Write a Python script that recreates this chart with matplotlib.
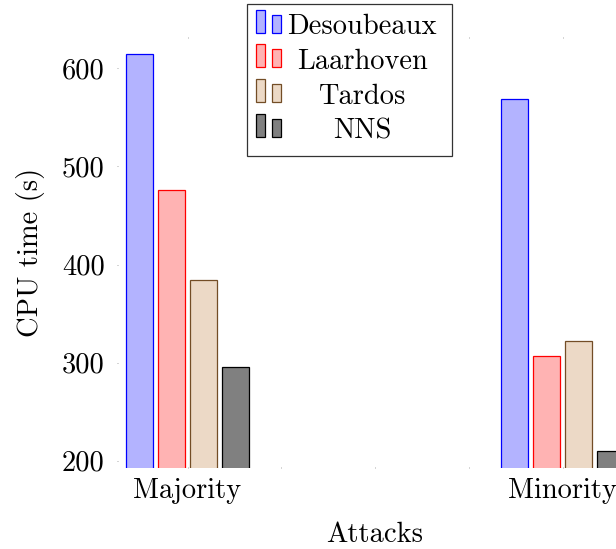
import matplotlib
matplotlib.use("Agg")
import matplotlib.pyplot as plt
from matplotlib.patches import Rectangle
from matplotlib.text import Text
from matplotlib.legend_handler import HandlerBase
import numpy as np

plt.rcParams['font.family'] = ['cmr10', 'DejaVu Serif']
plt.rcParams['axes.formatter.use_mathtext'] = True
plt.rcParams['mathtext.fontset'] = 'cm'

# data
attacks = ['Majority', 'Minority']
methods = ['Desoubeaux', 'Laarhoven', 'Tardos', 'NNS']
desoubeaux = [615, 569]
laarhoven = [476, 307]
tardos = [384, 322]
nns = [296, 210]
yticks = [200, 300, 400, 500, 600]

series = [desoubeaux, laarhoven, tardos, nns]
fills = [(0.7, 0.7, 1.0), (1.0, 0.7, 0.7), (0.925, 0.85, 0.775), (0.5, 0.5, 0.5)]
edges = ['blue', 'red', (0.45, 0.3, 0.15), 'black']

FS = 20.5

fig = plt.figure(figsize=(6.16, 5.49), dpi=100)
ax = fig.add_axes([0.18994, 0.14754, 0.83766, 0.78506])

x = np.arange(len(attacks))
step = 0.0851
width = 0.0715
containers = []
for i, (vals, fc, ec, name) in enumerate(zip(series, fills, edges, methods)):
    c = ax.bar(x + (i - 1.5) * step, vals, width=width, bottom=0,
               facecolor=fc, edgecolor=ec, linewidth=0.9, label=name)
    containers.append(c)

ax.set_xlim(-0.188, 1.188)
ax.set_ylim(192.6, 631.9)
for s in ax.spines.values():
    s.set_visible(False)

ax.set_xticks(x)
ax.set_xticklabels(attacks, fontsize=FS)
ax.set_xticks([0.25, 0.5, 0.75], minor=True)
ax.set_yticks(yticks)
ax.set_yticklabels([str(v) for v in yticks], fontsize=FS)
ax.tick_params(axis='both', which='both', direction='in', length=1.0,
               width=0.7, color='#aaaaaa', top=True, right=True)
ax.tick_params(axis='x', which='major', pad=7)
ax.tick_params(axis='y', which='major', pad=9)

ax.set_xlabel('Attacks', fontsize=FS, labelpad=13)
ax.set_ylabel('CPU time (s)', fontsize=FS, labelpad=12)


class TwoBarHandler(HandlerBase):
    """Legend key drawn as two small bars, with the label centred beside them."""

    def legend_artist(self, legend, orig_handle, fontsize, handlebox):
        patch = orig_handle.patches[0]
        fc = patch.get_facecolor()
        ec = patch.get_edgecolor()
        x0 = -handlebox.xdescent
        y0 = -handlebox.ydescent + 5.0
        bw = 6.1
        r1 = Rectangle((x0, y0), bw, 16.6, facecolor=fc, edgecolor=ec, lw=0.9)
        r2 = Rectangle((x0 + 11.5, y0), bw, 13.0, facecolor=fc, edgecolor=ec, lw=0.9)
        t = Text(x0 + 76.0, y0 - 1.0, orig_handle.get_label(), ha='center',
                 va='baseline', fontsize=FS, family=['cmr10', 'DejaVu Serif'])
        for a in (r1, r2, t):
            handlebox.add_artist(a)
        return r1


leg = ax.legend(containers, [''] * len(containers),
                handler_map={type(containers[0]): TwoBarHandler()},
                loc='upper left', bbox_to_anchor=(247 / 616, 1 - 4 / 549),
                bbox_transform=fig.transFigure, borderaxespad=0,
                fontsize=FS, handlelength=6.53, handleheight=1.035,
                handletextpad=0, labelspacing=0.21, borderpad=0.333,
                frameon=True, fancybox=False, framealpha=1)
leg.get_frame().set_edgecolor('#333333')
leg.get_frame().set_linewidth(0.9)

fig.savefig('out.png', dpi=100)
